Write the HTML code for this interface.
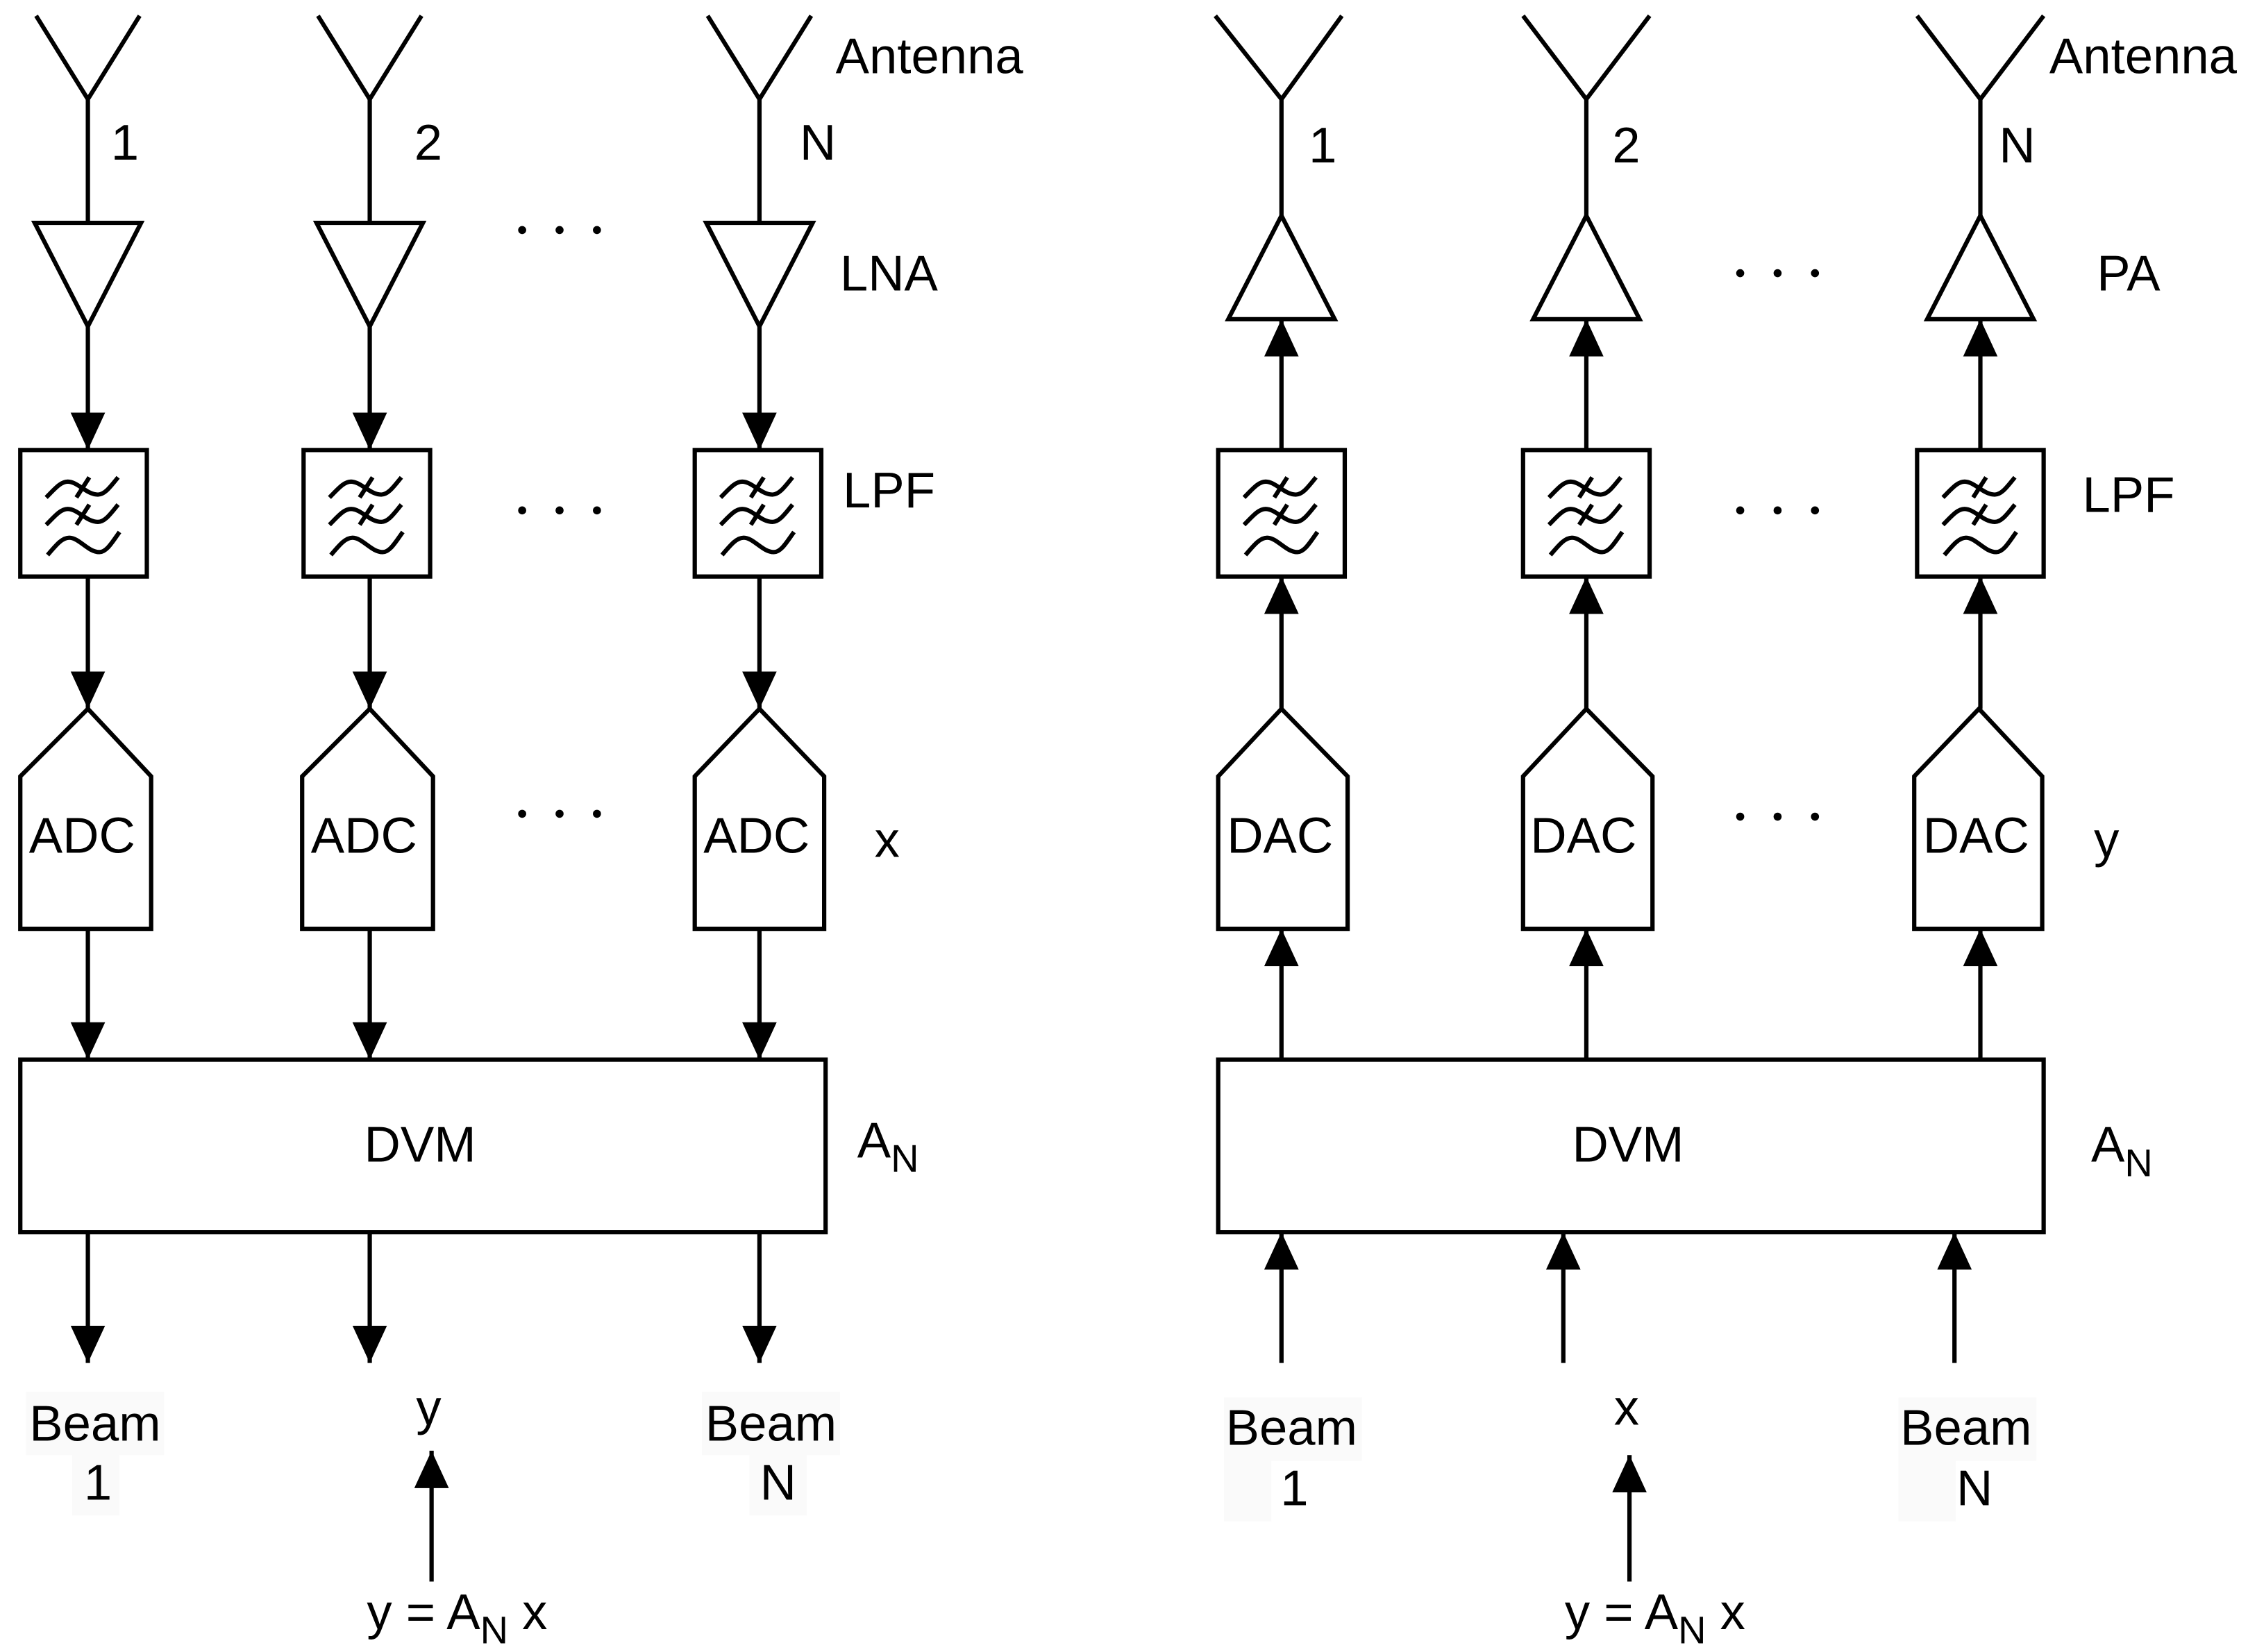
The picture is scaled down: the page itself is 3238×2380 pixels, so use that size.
<!DOCTYPE html>
<html><head><meta charset="utf-8"><style>
html,body{margin:0;padding:0;background:#fff;}
svg{display:block;}
text{font-family:"Liberation Sans",Arial,sans-serif;fill:#000;}
</style></head><body>
<svg width="3238" height="2380" viewBox="0 0 1563 1149" xmlns="http://www.w3.org/2000/svg">
<defs>
<marker id="ah" viewBox="0 0 26 24" refX="26" refY="12" markerWidth="26" markerHeight="24" markerUnits="userSpaceOnUse" orient="auto">
<path d="M0,0 L26,12 L0,24 z" fill="#000"/>
</marker>
<g id="flt" fill="none" stroke="#000" stroke-width="3">
<path d="M18,33 C24,27 28,22 33,22 C40,22 46,31 54,31 C59,31 63,25 68,19"/>
<path d="M39,33 L48,19"/>
<path d="M18,52 C24,46 28,41 33,41 C40,41 46,50 54,50 C59,50 63,44 68,38"/>
<path d="M39,52 L48,38"/>
<path d="M19,73 C25,66 29,61 34,61 C41,61 47,71 55,71 C60,71 64,64 69,57"/>
</g>
<g id="dots"><circle cx="0" cy="0" r="2.8"/><circle cx="26" cy="0" r="2.8"/><circle cx="52" cy="0" r="2.8"/></g>
</defs>
<g fill="none" stroke="#000" stroke-width="3">
<path d="M25,11 L61,69 L97,11 M61,69 L61,155"/>
<path d="M221,11 L257,69 L293,11 M257,69 L257,155"/>
<path d="M492,11 L528,69 L564,11 M528,69 L528,155"/>
<path d="M24,155 L98,155 L61,227 z"/>
<path d="M220,155 L294,155 L257,227 z"/>
<path d="M491,155 L565,155 L528,227 z"/>
<line x1="61" y1="227" x2="61" y2="313" marker-end="url(#ah)"/>
<line x1="257" y1="227" x2="257" y2="313" marker-end="url(#ah)"/>
<line x1="528" y1="227" x2="528" y2="313" marker-end="url(#ah)"/>
<rect x="14" y="313" width="88" height="88"/>
<rect x="211" y="313" width="88" height="88"/>
<rect x="483" y="313" width="88" height="88"/>
<line x1="61" y1="401" x2="61" y2="493" marker-end="url(#ah)"/>
<line x1="257" y1="401" x2="257" y2="493" marker-end="url(#ah)"/>
<line x1="528" y1="401" x2="528" y2="493" marker-end="url(#ah)"/>
<path d="M61,493 L105,540 L105,646 L14,646 L14,540 z"/>
<path d="M257,493 L301,540 L301,646 L210,646 L210,540 z"/>
<path d="M528,493 L573,540 L573,646 L483,646 L483,540 z"/>
<line x1="61" y1="646" x2="61" y2="737" marker-end="url(#ah)"/>
<line x1="257" y1="646" x2="257" y2="737" marker-end="url(#ah)"/>
<line x1="528" y1="646" x2="528" y2="737" marker-end="url(#ah)"/>
<rect x="14" y="737" width="560" height="120"/>
<line x1="61" y1="857" x2="61" y2="948" marker-end="url(#ah)"/>
<line x1="257" y1="857" x2="257" y2="948" marker-end="url(#ah)"/>
<line x1="528" y1="857" x2="528" y2="948" marker-end="url(#ah)"/>
<line x1="300" y1="1100" x2="300" y2="1009" marker-end="url(#ah)"/>

<path d="M845,11 L891,69 L933,11 M891,69 L891,150"/>
<path d="M1059,11 L1103,69 L1147,11 M1103,69 L1103,150"/>
<path d="M1333,11 L1377,69 L1421,11 M1377,69 L1377,150"/>
<path d="M854,222 L928,222 L891,150 z"/>
<path d="M1066,222 L1140,222 L1103,150 z"/>
<path d="M1340,222 L1414,222 L1377,150 z"/>
<line x1="891" y1="313" x2="891" y2="222" marker-end="url(#ah)"/>
<line x1="1103" y1="313" x2="1103" y2="222" marker-end="url(#ah)"/>
<line x1="1377" y1="313" x2="1377" y2="222" marker-end="url(#ah)"/>
<rect x="847" y="313" width="88" height="88"/>
<rect x="1059" y="313" width="88" height="88"/>
<rect x="1333" y="313" width="88" height="88"/>
<line x1="891" y1="493" x2="891" y2="401" marker-end="url(#ah)"/>
<line x1="1103" y1="493" x2="1103" y2="401" marker-end="url(#ah)"/>
<line x1="1377" y1="493" x2="1377" y2="401" marker-end="url(#ah)"/>
<path d="M891,493 L937,540 L937,646 L847,646 L847,540 z"/>
<path d="M1103,493 L1149,540 L1149,646 L1059,646 L1059,540 z"/>
<path d="M1376,493 L1420,540 L1420,646 L1331,646 L1331,540 z"/>
<line x1="891" y1="737" x2="891" y2="646" marker-end="url(#ah)"/>
<line x1="1103" y1="737" x2="1103" y2="646" marker-end="url(#ah)"/>
<line x1="1377" y1="737" x2="1377" y2="646" marker-end="url(#ah)"/>
<rect x="847" y="737" width="574" height="120"/>
<line x1="891" y1="948" x2="891" y2="857" marker-end="url(#ah)"/>
<line x1="1087" y1="948" x2="1087" y2="857" marker-end="url(#ah)"/>
<line x1="1359" y1="948" x2="1359" y2="857" marker-end="url(#ah)"/>
<line x1="1133" y1="1100" x2="1133" y2="1012" marker-end="url(#ah)"/>
</g>
<use href="#flt" x="14" y="313"/>
<use href="#flt" x="211" y="313"/>
<use href="#flt" x="483" y="313"/>
<use href="#flt" x="847" y="313"/>
<use href="#flt" x="1059" y="313"/>
<use href="#flt" x="1333" y="313"/>

<use href="#dots" x="363" y="160"/>
<use href="#dots" x="363" y="355"/>
<use href="#dots" x="363" y="566"/>
<use href="#dots" x="1210" y="190"/>
<use href="#dots" x="1210" y="355"/>
<use href="#dots" x="1210" y="568"/>

<g fill="#fafafa">
<rect x="18" y="968" width="96" height="44"/><rect x="50" y="1012" width="33" height="42"/>
<rect x="488" y="968" width="96" height="44"/><rect x="521" y="1012" width="40" height="42"/>
<rect x="851" y="972" width="96" height="44"/><rect x="851" y="1016" width="33" height="42"/>
<rect x="1320" y="972" width="96" height="44"/><rect x="1320" y="1016" width="40" height="42"/>
</g>

<g font-size="35">
<text x="581" y="51">Antenna</text>
<text x="1425" y="51">Antenna</text>
<text x="77" y="111">1</text>
<text x="288" y="111">2</text>
<text x="556" y="111">N</text>
<text x="910" y="113">1</text>
<text x="1121" y="113">2</text>
<text x="1390" y="113">N</text>
<text x="584" y="202">LNA</text>
<text x="586" y="353">LPF</text>
<text x="608" y="596">x</text>
<text x="1458" y="202">PA</text>
<text x="1448" y="356">LPF</text>
<text x="1456" y="596">y</text>
<text x="57" y="593" text-anchor="middle">ADC</text>
<text x="253" y="593" text-anchor="middle">ADC</text>
<text x="526" y="593" text-anchor="middle">ADC</text>
<text x="890" y="593" text-anchor="middle">DAC</text>
<text x="1101" y="593" text-anchor="middle">DAC</text>
<text x="1374" y="593" text-anchor="middle">DAC</text>
<text x="292" y="808" text-anchor="middle">DVM</text>
<text x="1132" y="808" text-anchor="middle">DVM</text>
<text x="596" y="805">A<tspan font-size="27" dy="10">N</tspan></text>
<text x="1454" y="808">A<tspan font-size="27" dy="10">N</tspan></text>
<text x="66" y="1002" text-anchor="middle">Beam</text>
<text x="68" y="1043" text-anchor="middle">1</text>
<text x="536" y="1002" text-anchor="middle">Beam</text>
<text x="541" y="1043" text-anchor="middle">N</text>
<text x="898" y="1005" text-anchor="middle">Beam</text>
<text x="900" y="1047" text-anchor="middle">1</text>
<text x="1367" y="1005" text-anchor="middle">Beam</text>
<text x="1373" y="1047" text-anchor="middle">N</text>
<text x="298" y="991" text-anchor="middle">y</text>
<text x="1131" y="991" text-anchor="middle">x</text>
<text x="255" y="1133">y = A<tspan font-size="27" dy="10">N</tspan><tspan dy="-10"> x</tspan></text>
<text x="1088" y="1133">y = A<tspan font-size="27" dy="10">N</tspan><tspan dy="-10"> x</tspan></text>
</g>
</svg>
</body></html>
